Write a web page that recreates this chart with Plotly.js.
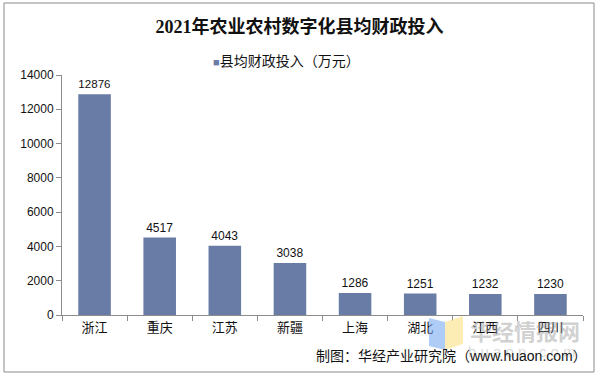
<!DOCTYPE html>
<html>
<head>
<meta charset="utf-8">
<script src="https://cdn.plot.ly/plotly-3.0.1.min.js"></script>
<style>
html,body{margin:0;padding:0;background:#fff;}
#chart{width:599px;height:377px;}
</style>
</head>
<body>
<div id="chart"></div>
<script>
const categories = ["浙江","重庆","江苏","新疆","上海","湖北","江西","四川"];
const values = [12876, 4517, 4043, 3038, 1286, 1251, 1232, 1230];
const seriesName = "县均财政投入（万元）";
const yTicks = [0, 2000, 4000, 6000, 8000, 10000, 12000, 14000];

const W = 599, H = 377;
const mL = 62, mR = 16, mT = 75, mB = 62;
const pw = W - mL - mR, ph = H - mT - mB;
function px(x){ return (x - mL) / pw; }
function py(y){ return (H - mB - y) / ph; }

const sans = "Liberation Sans, Arial, Noto Sans CJK SC, sans-serif";
const barColor = "#687ca6";

const trace = {
  type: "bar",
  x: categories,
  y: values,
  name: seriesName,
  marker: {color: barColor},
  width: 0.5,
  text: values.map(String),
  textposition: "outside",
  cliponaxis: false,
  textfont: {family: sans, size: 12, color: "#111"},
  showlegend: false
};

function poly(pts){
  return "M" + pts.map(p => px(p[0]) + "," + py(p[1])).join(" L") + " Z";
}

const layout = {
  width: W, height: H,
  margin: {l: mL, r: mR, t: mT, b: mB},
  paper_bgcolor: "#fff",
  plot_bgcolor: "#fff",
  title: {
    text: "<b>2021年农业农村数字化县均财政投入</b>",
    font: {family: "Liberation Serif, Noto Sans CJK SC, serif", size: 18, color: "#111"},
    x: 0.5, xanchor: "center", y: 1 - 27/H, yanchor: "middle"
  },
  showlegend: false,
  bargap: 0.5,
  xaxis: {
    type: "category",
    showline: true, linecolor: "#8c8c8c", linewidth: 1,
    ticks: "outside", tickson: "boundaries", ticklen: 5, tickcolor: "#8c8c8c",
    tickfont: {family: sans, size: 13, color: "#111"},
    showgrid: false, zeroline: false, fixedrange: true
  },
  yaxis: {
    range: [0, 14000],
    tickvals: yTicks,
    ticktext: yTicks.map(String),
    showline: true, linecolor: "#8c8c8c", linewidth: 1,
    ticks: "outside", ticklen: 5, tickcolor: "#8c8c8c",
    tickfont: {family: sans, size: 12, color: "#111"},
    showgrid: false, zeroline: false, fixedrange: true
  },
  shapes: [
    {type: "rect", xref: "paper", yref: "paper", x0: px(4), x1: px(594), y0: py(372), y1: py(3),
     line: {color: "#8a8a8a", width: 1}, fillcolor: "rgba(0,0,0,0)", layer: "below"},
    {type: "path", xref: "paper", yref: "paper", path: poly([[429,318],[445,322],[445,350],[429,346]]),
     fillcolor: "rgba(120,170,240,0.6)", line: {width: 0}},
    {type: "path", xref: "paper", yref: "paper", path: poly([[445,322],[463,316],[463,344],[445,350]]),
     fillcolor: "rgba(250,225,130,0.6)", line: {width: 0}}
  ],
  annotations: [
    {text: "<span style='color:" + barColor + ";font-size:11px'>■</span>" + seriesName,
     xref: "paper", yref: "paper", x: px(286), y: py(61),
     xanchor: "center", yanchor: "middle", showarrow: false,
     font: {family: sans, size: 14, color: "#111"}},
    {text: "<b>华经情报网</b>", xref: "paper", yref: "paper", x: px(525), y: py(330),
     xanchor: "center", yanchor: "middle", showarrow: false,
     font: {family: "Noto Sans CJK SC, sans-serif", size: 22, color: "rgba(150,150,150,0.45)"}},
    {text: "h u a o n . c o m", xref: "paper", yref: "paper", x: px(522), y: py(351),
     xanchor: "center", yanchor: "middle", showarrow: false,
     font: {family: sans, size: 15, color: "rgba(170,170,170,0.45)"}},
    {text: "制图：华经产业研究院（www.huaon.com）", xref: "paper", yref: "paper", x: px(589), y: py(356),
     xanchor: "right", yanchor: "middle", showarrow: false,
     font: {family: sans, size: 14, color: "#111"}}
  ]
};

Plotly.newPlot("chart", [trace], layout, {displayModeBar: false, staticPlot: true});
</script>
</body>
</html>
